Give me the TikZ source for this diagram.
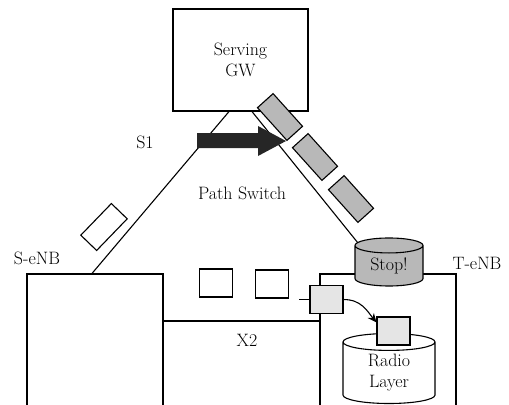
\documentclass[tikz,border=0pt]{standalone}
\usepackage{tikz}
\usetikzlibrary{arrows.meta, positioning, shapes.geometric}
\definecolor{pktgray}{gray}{0.72}
\definecolor{sqgray}{gray}{0.9}

\begin{document}
\begin{tikzpicture}[x=1bp, y=-1bp, line width=1.1bp, inner sep=0pt,
  font=\fontsize{18}{21}\selectfont,
  enb/.style={draw, minimum width=136bp, minimum height=136bp},
  pkt/.style={draw, fill=pktgray, minimum width=44bp, minimum height=21bp, rotate=-48},
  sq/.style={draw, minimum width=33bp, minimum height=28bp},
  cyl/.style={draw, cylinder, shape border rotate=90, aspect=0.4, align=center}]

  \useasboundingbox (0,0) rectangle (509,404);

  \node[draw, minimum width=135bp, minimum height=102bp, align=center] (gw) at (240.5,60) {Serving\\GW};
  \node[enb]  (senb) at (95,342)  {};
  \node[enb]  (tenb) at (388,342) {};
  \coordinate (stopin) at (358,243);

  \node (s1)    at (145,142) {S1};
  \node (ps)    at (242,193) {Path Switch};
  \node (x2)    at (247,340) {X2};
  \node (slbl)  at (37,258)  {S-eNB};
  \node (tlbl)  at (477,263) {T-eNB};

  \draw ([xshift=-11.5bp]gw.south) -- ([xshift=-3bp]senb.north);
  \draw ([xshift=11.5bp]gw.south) -- (stopin);
  \draw ([yshift=21bp]senb.east) -- ([yshift=21bp]tenb.west);

  % path switch arrow
  \fill[black!85] (197,133) -- (258,133) -- (258,126) -- (286,141)
        -- (258,156) -- (258,148) -- (197,148) -- cycle;

  \node[draw, fill=white, minimum width=44bp, minimum height=22bp, rotate=46] (p0) at (104,227) {};
  \node[pkt] (p1) at (280,117) {};
  \node[pkt] (p2) at (315,157) {};
  \node[pkt] (p3) at (351,199) {};

  \node[cyl, fill=pktgray, minimum width=68bp, minimum height=48bp] (stop)  at (389,266) {Stop!};
  \node[cyl, fill=white,   minimum width=92bp, minimum height=70bp] (radio) at (389,373) {Radio\\Layer};

  \node[sq, fill=white]  (w1) at (216,283)   {};
  \node[sq, fill=white]  (w2) at (272,284)   {};
  \node[sq, fill=sqgray] (g1) at (326.5,299.5) {};
  \node[sq, fill=sqgray] (g2) at (393.5,331) {};

  \draw ([xshift=-10bp]g1.west) -- (g1.west);
  \draw[-{Stealth[length=9bp, width=8bp]}] (g1.east) .. controls +(18,0) and +(-9,-11) .. ([yshift=-6bp]g2.north west);

\end{tikzpicture}
\end{document}
